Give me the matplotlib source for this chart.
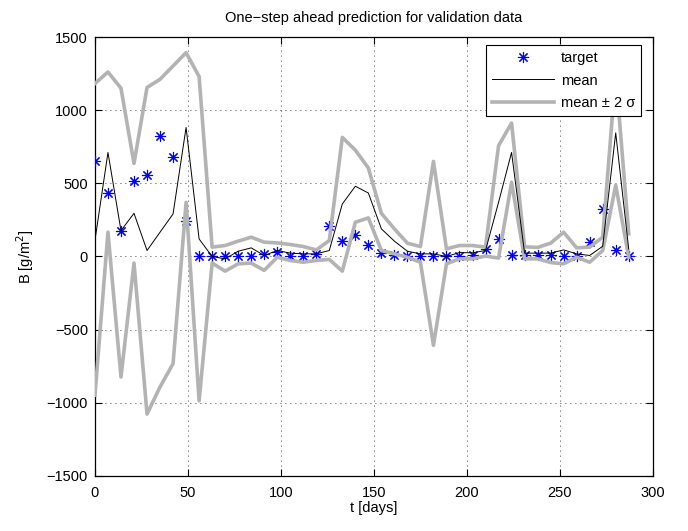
import numpy as np
import matplotlib; matplotlib.use('Agg')
import matplotlib.pyplot as plt

plt.rcParams['font.family'] = ['Liberation Sans', 'DejaVu Sans']

# в”Җв”Җ data в”Җв”Җ
t_days = [0, 7, 14, 21, 28, 35, 42, 49, 56, 63, 70, 77, 84, 91, 98, 105, 112,
          119, 126, 133, 140, 147, 154, 161, 168, 175, 182, 189, 196, 203, 210,
          217, 224, 231, 238, 245, 252, 259, 266, 273, 280, 287]
target = [655, 434, 177, 514, 559, 821, 677, 245, 0, 0, 0, 0, 0, 18, 30, 0, 0,
          18, 211, 105, 148, 82, 25, 11, 5, 0, 0, 0, 0, 11, 50,
          118, 11, 7, 7, 7, 0, 0, 98, 325, 43, 0]
mean = [110, 711, 177, 295, 41, 166, 291, 882, 120, 0, -16, 36, 59, 7, 41, 23, 18,
        18, 41, 359, 480, 434, 189, 105, 36, 18, 18, 0, 27, 25, 41,
        370, 711, 23, 23, 23, 45, 18, 7, 70, 845, 50]
upper = [1182, 1261, 1150, 636, 1155, 1211, 1302, 1393, 1230, 64, 75, 105, 132, 98, 93, 82, 68,
         45, 109, 814, 727, 605, 295, 189, 91, 68, 650, 52, 75, 75, 64,
         757, 912, 66, 62, 91, 166, 59, 64, 132, 1250, 155]
lower = [-948, 166, -823, -45, -1077, -891, -732, 370, -986, -45, -100, -50, -45, -95, -5, -27, -39,
         -27, -20, -100, 234, 264, 41, 18, -5, -39, -607, -50, -16, -16, 3,
         -11, 507, -16, -16, -41, -50, -5, -39, 41, 487, -5]

FS = 10.5
gray = '#b3b3b3'

fig = plt.figure(figsize=(6.88, 5.31), dpi=100)
ax = fig.add_axes([0.138, 0.1036, 0.811, 0.8267])

ax.plot(t_days, target, linestyle='none', marker=(8, 2, 0), markersize=8,
        markeredgewidth=0.8, color='#0000ff', label='target', zorder=3)
ax.plot(t_days, upper, color=gray, lw=2.6, label='mean \u00b1 2 \u03c3', zorder=4)
ax.plot(t_days, lower, color=gray, lw=2.6, zorder=4)
ax.plot(t_days, mean, color='black', lw=0.7, label='mean', zorder=5)

ax.set_xlim(0, 300)
ax.set_ylim(-1500, 1500)
ax.set_xticks([0, 50, 100, 150, 200, 250, 300])
ax.set_yticks([-1500, -1000, -500, 0, 500, 1000, 1500])
ax.grid(True, color='black', lw=0.6, linestyle=(0, (1, 5)))
ax.tick_params(direction='in', top=True, right=True, length=5, width=0.8,
               labelsize=FS)
ax.tick_params(axis='x', pad=7)
ax.tick_params(axis='y', pad=5)
for sp in ax.spines.values():
    sp.set_linewidth(0.9)

ax.set_title('One\u2212step ahead prediction for validation data', fontsize=FS, pad=11)
ax.set_xlabel('t [days]', fontsize=FS, labelpad=1)
ax.set_ylabel('B [g/m$^2$]', fontsize=FS, labelpad=8)

h, l = ax.get_legend_handles_labels()
order = [0, 2, 1]
leg = ax.legend([h[i] for i in order], [l[i] for i in order], loc='upper right',
                bbox_to_anchor=(0.9785, 0.9818), borderaxespad=0,
                fontsize=FS, fancybox=False, framealpha=1, edgecolor='black',
                handlelength=4.2, handletextpad=0.5, labelspacing=0.6)
leg.get_frame().set_linewidth(0.8)
leg.set_zorder(10)

plt.savefig('out.png', dpi=100)
plt.close()
